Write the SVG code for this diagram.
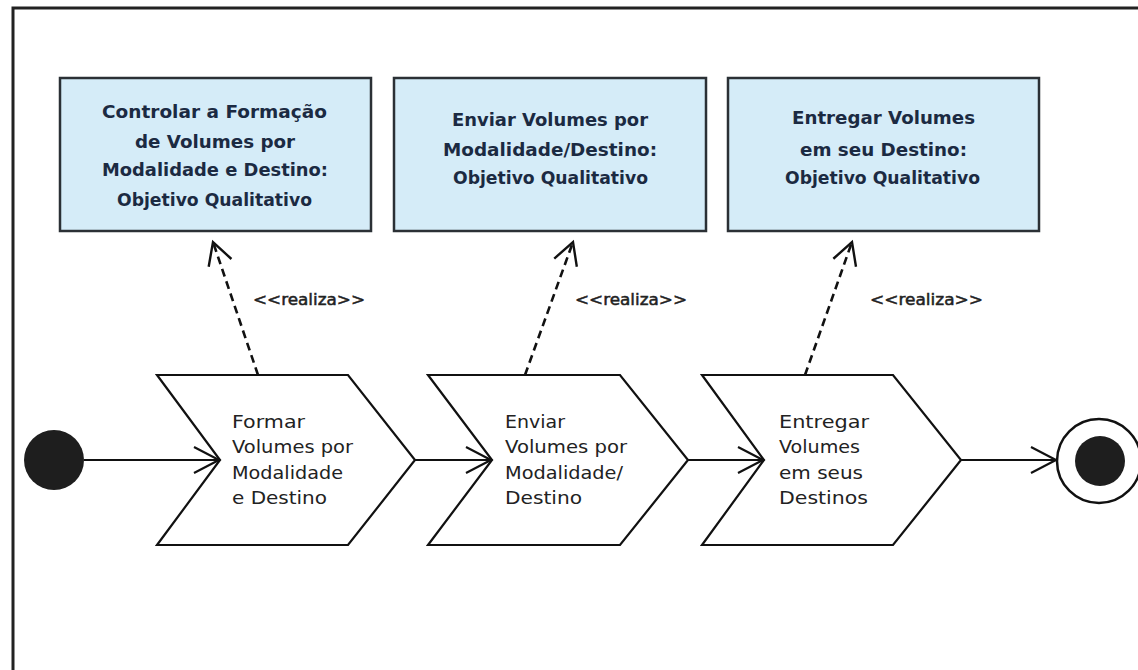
<svg xmlns="http://www.w3.org/2000/svg" width="1138" height="670" viewBox="0 0 1138 670">
<defs>
<style>
.frame{fill:none;stroke:#222;stroke-width:3}
.goal{fill:#d5ecf8;stroke:#2b3035;stroke-width:2.5}
.gtxt{font-family:"DejaVu Sans","Liberation Sans",sans-serif;font-weight:bold;font-size:18px;fill:#1b2a42;text-anchor:start}
.act{fill:#fff;stroke:#111;stroke-width:2.2;stroke-linejoin:miter}
.atxt{font-family:"DejaVu Sans","Liberation Sans",sans-serif;font-size:18px;fill:#222}
.flow{fill:none;stroke:#111;stroke-width:2}
.dep{fill:none;stroke:#111;stroke-width:2.6;stroke-dasharray:8 5}
.stereo{font-family:"DejaVu Sans","Liberation Sans",sans-serif;font-size:16px;fill:#222;stroke:#222;stroke-width:0.5}
</style>
<marker id="open" markerUnits="userSpaceOnUse" markerWidth="32" markerHeight="32" viewBox="-29 -16 32 32" refX="0" refY="0" orient="auto" overflow="visible">
<path d="M-25,-13 L0,0 L-25,13" fill="none" stroke="#111" stroke-width="2.2"/>
</marker>
<marker id="openS" markerUnits="userSpaceOnUse" markerWidth="30" markerHeight="30" viewBox="-26 -15 30 30" refX="0" refY="0" orient="auto" overflow="visible">
<path d="M-22,-12 L0,0 L-22,12" fill="none" stroke="#111" stroke-width="2.4"/>
</marker>
</defs>
<rect x="0" y="0" width="1138" height="670" fill="#fff"/>
<rect class="frame" x="13" y="8" width="1140" height="680"/>

<g id="goal1">
<rect class="goal" x="60" y="78" width="311" height="153"/>
<text class="gtxt" x="102" y="118" textLength="225" lengthAdjust="spacingAndGlyphs">Controlar a Formação</text>
<text class="gtxt" x="135" y="148" textLength="160" lengthAdjust="spacingAndGlyphs">de Volumes por</text>
<text class="gtxt" x="102" y="176" textLength="226" lengthAdjust="spacingAndGlyphs">Modalidade e Destino:</text>
<text class="gtxt" x="117" y="206" textLength="195" lengthAdjust="spacingAndGlyphs">Objetivo Qualitativo</text>
</g>
<g id="goal2">
<rect class="goal" x="394" y="78" width="312" height="153"/>
<text class="gtxt" x="452" y="126" textLength="196" lengthAdjust="spacingAndGlyphs">Enviar Volumes por</text>
<text class="gtxt" x="443" y="156" textLength="214" lengthAdjust="spacingAndGlyphs">Modalidade/Destino:</text>
<text class="gtxt" x="453" y="184" textLength="195" lengthAdjust="spacingAndGlyphs">Objetivo Qualitativo</text>
</g>
<g id="goal3">
<rect class="goal" x="728" y="78" width="311" height="153"/>
<text class="gtxt" x="792" y="124" textLength="183" lengthAdjust="spacingAndGlyphs">Entregar Volumes</text>
<text class="gtxt" x="800" y="156" textLength="167" lengthAdjust="spacingAndGlyphs">em seu Destino:</text>
<text class="gtxt" x="785" y="184" textLength="195" lengthAdjust="spacingAndGlyphs">Objetivo Qualitativo</text>
</g>

<g id="start">
<circle cx="54" cy="460" r="30" fill="#1e1e1e"/>
</g>

<g id="act1">
<path class="act" d="M157,375 L348,375 L415,460 L348,545 L157,545 L220,460 Z"/>
<text class="atxt" x="232" y="428" textLength="73" lengthAdjust="spacingAndGlyphs">Formar</text>
<text class="atxt" x="232" y="453" textLength="121" lengthAdjust="spacingAndGlyphs">Volumes por</text>
<text class="atxt" x="232" y="479" textLength="111" lengthAdjust="spacingAndGlyphs">Modalidade</text>
<text class="atxt" x="232" y="504" textLength="95" lengthAdjust="spacingAndGlyphs">e Destino</text>
</g>
<g id="act2">
<path class="act" d="M428,375 L620,375 L688,460 L620,545 L428,545 L492,460 Z"/>
<text class="atxt" x="505" y="428" textLength="60" lengthAdjust="spacingAndGlyphs">Enviar</text>
<text class="atxt" x="505" y="453" textLength="122" lengthAdjust="spacingAndGlyphs">Volumes por</text>
<text class="atxt" x="505" y="479" textLength="118" lengthAdjust="spacingAndGlyphs">Modalidade/</text>
<text class="atxt" x="505" y="504" textLength="77" lengthAdjust="spacingAndGlyphs">Destino</text>
</g>
<g id="act3">
<path class="act" d="M702,375 L893,375 L961,460 L893,545 L702,545 L764,460 Z"/>
<text class="atxt" x="779" y="428" textLength="90" lengthAdjust="spacingAndGlyphs">Entregar</text>
<text class="atxt" x="779" y="453" textLength="81" lengthAdjust="spacingAndGlyphs">Volumes</text>
<text class="atxt" x="779" y="479" textLength="84" lengthAdjust="spacingAndGlyphs">em seus</text>
<text class="atxt" x="779" y="504" textLength="89" lengthAdjust="spacingAndGlyphs">Destinos</text>
</g>

<g id="end">
<circle cx="1099" cy="461" r="42" fill="#fff" stroke="#111" stroke-width="2.5"/>
<circle cx="1100" cy="461" r="25" fill="#1e1e1e"/>
</g>

<g id="connectors">
<line class="flow" x1="84" y1="460" x2="219" y2="460" marker-end="url(#open)"/>
<line class="flow" x1="415" y1="460" x2="491" y2="460" marker-end="url(#open)"/>
<line class="flow" x1="688" y1="460" x2="763" y2="460" marker-end="url(#open)"/>
<line class="flow" x1="961" y1="460" x2="1056" y2="460" marker-end="url(#open)"/>
<line class="dep" x1="258" y1="375" x2="213" y2="242" marker-end="url(#openS)"/>
<line class="dep" x1="525" y1="375" x2="573" y2="242" marker-end="url(#openS)"/>
<line class="dep" x1="805" y1="375" x2="852" y2="242" marker-end="url(#openS)"/>
<text class="stereo" x="253" y="305" textLength="112" lengthAdjust="spacingAndGlyphs">&lt;&lt;realiza&gt;&gt;</text>
<text class="stereo" x="575" y="305" textLength="112" lengthAdjust="spacingAndGlyphs">&lt;&lt;realiza&gt;&gt;</text>
<text class="stereo" x="870" y="305" textLength="113" lengthAdjust="spacingAndGlyphs">&lt;&lt;realiza&gt;&gt;</text>
</g>
</svg>
